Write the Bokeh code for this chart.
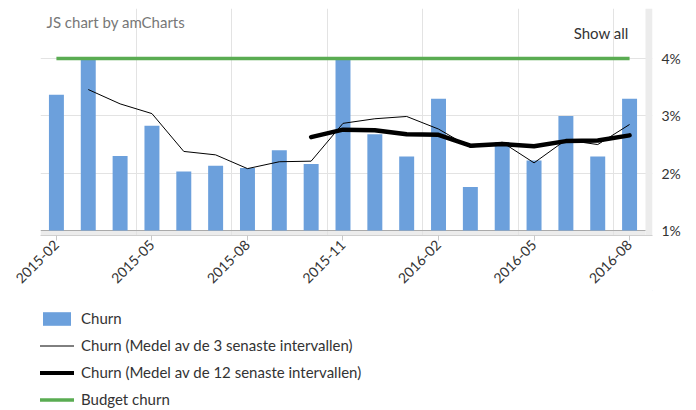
from bokeh.plotting import figure
from bokeh.layouts import column
from bokeh.models import (ColumnDataSource, FixedTicker, Legend, LegendItem, Label)
from bokeh.embed import file_html
from bokeh.resources import INLINE

months = ["2015-02", "2015-03", "2015-04", "2015-05", "2015-06", "2015-07", "2015-08",
          "2015-09", "2015-10", "2015-11", "2015-12", "2016-01", "2016-02", "2016-03",
          "2016-04", "2016-05", "2016-06", "2016-07", "2016-08"]
churn = [3.37, 4.00, 2.30, 2.83, 2.03, 2.13, 2.09, 2.40, 2.16, 4.02,
         2.68, 2.29, 3.30, 1.76, 2.54, 2.22, 3.00, 2.29, 3.30]
avg3 = [None, 3.46, 3.21, 3.04, 2.38, 2.32, 2.08, 2.20, 2.21, 2.87,
        2.95, 2.99, 2.77, 2.45, 2.54, 2.18, 2.58, 2.50, 2.85]
avg12 = [None, None, None, None, None, None, None, None, 2.63, 2.76,
         2.75, 2.68, 2.67, 2.48, 2.51, 2.47, 2.56, 2.57, 2.66]
budget = [4.0] * len(months)
x_tick_months = ["2015-02", "2015-05", "2015-08", "2015-11", "2016-02", "2016-05", "2016-08"]
y_ticks = [1, 2, 3, 4]
y_tick_labels = ["1%", "2%", "3%", "4%"]
series_names = ["Churn", "Churn (Medel av de 3 senaste intervallen)",
                "Churn (Medel av de 12 senaste intervallen)", "Budget churn"]

FONT = "Lato"
TXT = "#333333"
BAR = "#6ca0dc"
GREEN = "#5aac52"

idx = list(range(len(months)))
bar_src = ColumnDataSource(dict(x=idx, top=churn))
a3 = [(i, v) for i, v in zip(idx, avg3) if v is not None]
a12 = [(i, v) for i, v in zip(idx, avg12) if v is not None]
a3_src = ColumnDataSource(dict(x=[a[0] for a in a3], y=[a[1] for a in a3]))
a12_src = ColumnDataSource(dict(x=[a[0] for a in a12], y=[a[1] for a in a12]))
bud_src = ColumnDataSource(dict(x=idx, y=budget))

p = figure(width=696, height=290, x_range=(-0.5, 18.72), y_range=(0.913, 4.874),
           output_backend="svg", toolbar_location=None, y_axis_location="right",
           min_border_left=40, min_border_top=8, min_border_right=44, min_border_bottom=55)
p.outline_line_color = None
p.background_fill_color = "white"

# grids
p.xgrid.ticker = FixedTicker(ticks=[-0.5, 2.5, 5.5, 8.5, 11.5, 14.5, 17.5])
p.xgrid.grid_line_color = "#e3e3e3"
p.ygrid.ticker = FixedTicker(ticks=[2, 3, 4])
p.ygrid.grid_line_color = "#e3e3e3"

# scrollbar-like strips
p.quad(left=[-0.5], right=[18.5], bottom=[0.913], top=[1.0], fill_color="#ececec",
       line_color=None, level="underlay")
p.quad(left=[18.5], right=[18.72], bottom=[0.913], top=[4.874], fill_color="#ececec",
       line_color=None)
p.segment(x0=[-0.5], y0=[1.0], x1=[18.5], y1=[1.0], line_color="#aaaaaa", line_width=1)

p.vbar(x="x", top="top", bottom=1.0, width=0.47, source=bar_src,
       fill_color=BAR, line_color=None)
p.line("x", "y", source=bud_src, line_color=GREEN, line_width=3.5)
p.line("x", "y", source=a3_src, line_color="#000000", line_width=1)
p.line("x", "y", source=a12_src, line_color="#000000", line_width=4.5,
       line_join="round", line_cap="round")

# x axis
xa = p.xaxis[0]
xa.ticker = FixedTicker(ticks=[months.index(m) for m in x_tick_months])
xa.major_label_overrides = {months.index(m): m for m in x_tick_months}
xa.major_label_orientation = 0.785398
xa.major_label_text_font = FONT
xa.major_label_text_font_size = "14px"
xa.major_label_text_color = TXT
xa.axis_line_color = "#d0d0d0"
xa.major_tick_line_color = "#c8c8c8"
xa.major_tick_in = 0
xa.major_tick_out = 5
xa.minor_tick_line_color = None
xa.major_label_standoff = 2

# y axis (right)
ya = p.yaxis[0]
ya.ticker = FixedTicker(ticks=y_ticks)
ya.major_label_overrides = {t: l for t, l in zip(y_ticks, y_tick_labels)}
ya.major_label_text_font = FONT
ya.major_label_text_font_size = "14px"
ya.major_label_text_color = TXT
ya.axis_line_color = None
ya.major_tick_line_color = None
ya.minor_tick_line_color = None
ya.major_label_standoff = 3

p.add_layout(Label(x=-0.31, y=4.80, text="JS chart by amCharts", text_font=FONT,
                   text_font_size="15px", text_color="#777777", text_baseline="top"))
p.add_layout(Label(x=17.97, y=4.60, text="Show all", text_font=FONT,
                   text_font_size="15px", text_color=TXT, text_baseline="top",
                   text_align="right"))

# legend panel (dummy renderers with a point outside the visible range)
lg = figure(width=696, height=120, x_range=(0, 1), y_range=(0, 1),
            output_backend="svg", toolbar_location=None,
            min_border_left=40, min_border_right=44, min_border_top=0, min_border_bottom=0)
lg.axis.visible = False
lg.grid.visible = False
lg.outline_line_color = None
l_bar = lg.vbar(x=[5], top=[6], bottom=[5], width=0.5, fill_color=BAR, line_color=None)
l_a3 = lg.line(x=[5, 6], y=[5, 5], line_color="#000000", line_width=1)
l_a12 = lg.line(x=[5, 6], y=[5, 5], line_color="#000000", line_width=4)
l_bud = lg.line(x=[5, 6], y=[5, 5], line_color=GREEN, line_width=3.5)

legend = Legend(items=[
    LegendItem(label=series_names[0], renderers=[l_bar]),
    LegendItem(label=series_names[1], renderers=[l_a3]),
    LegendItem(label=series_names[2], renderers=[l_a12]),
    LegendItem(label=series_names[3], renderers=[l_bud]),
], location=(-1, 2), orientation="vertical")
legend.glyph_width = 35
legend.glyph_height = 17
legend.label_height = 17
legend.spacing = 9
legend.label_standoff = 7
legend.label_text_font = FONT
legend.label_text_font_size = "15px"
legend.label_text_color = TXT
legend.border_line_color = None
legend.background_fill_alpha = 0
legend.padding = 0
legend.margin = 0
lg.add_layout(legend, "center")

layout = column(p, lg, spacing=0)
open("out.html", "w").write(file_html(layout, INLINE))
